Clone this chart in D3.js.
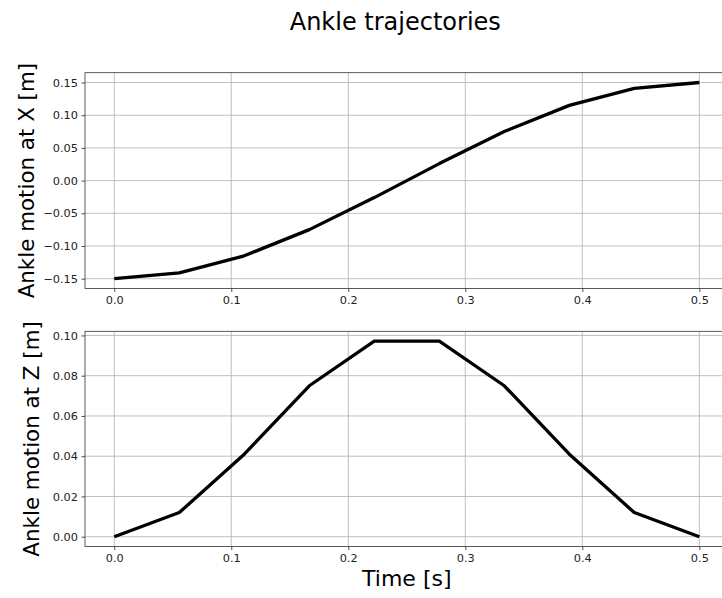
<!DOCTYPE html>
<html>
<head>
<meta charset="utf-8">
<script src="https://cdn.jsdelivr.net/npm/d3@7"></script>
<style>
  html, body { margin: 0; padding: 0; background: #fff; }
  svg { display: block; font-family: "DejaVu Sans", sans-serif; }
</style>
</head>
<body>
<svg id="chart" width="722" height="598"></svg>
<script>
// ---- data ----
const time = [0.0, 0.0556, 0.1111, 0.1667, 0.2222, 0.2778, 0.3333, 0.3889, 0.4444, 0.5];
const ankleX = [-0.150, -0.141, -0.115, -0.075, -0.026, 0.026, 0.075, 0.115, 0.141, 0.150];
const ankleZ = [0.000, 0.012, 0.041, 0.075, 0.0972, 0.0972, 0.075, 0.041, 0.012, 0.000];
const xTicks = [0.0, 0.1, 0.2, 0.3, 0.4, 0.5];
const xTicksTop = [-0.15, -0.10, -0.05, 0.00, 0.05, 0.10, 0.15];
const zTicks = [0.00, 0.02, 0.04, 0.06, 0.08, 0.10];

const title = "Ankle trajectories";
const yLabelTop = "Ankle motion at X [m]";
const yLabelBottom = "Ankle motion at Z [m]";
const xLabel = "Time [s]";

// ---- layout ----
const svg = d3.select("#chart");
const left = 85, right = 728.6;

const x = d3.scaleLinear().domain([-0.025, 0.525]).range([left, right]);

function fmt(d, n) {
  const s = Math.abs(d).toFixed(n);
  return (d < 0 ? "\u2212" : "") + s;
}

function panel(top, bottom, yDomain, yTicks, ys, yDec, ylabel, ylabelX) {
  const y = d3.scaleLinear().domain(yDomain).range([bottom, top]);
  const g = svg.append("g");

  // grid
  g.selectAll(".vg").data(xTicks).enter().append("line")
    .attr("x1", d => x(d)).attr("x2", d => x(d))
    .attr("y1", top).attr("y2", bottom)
    .attr("stroke", "#b0b0b0").attr("stroke-width", 0.8);
  g.selectAll(".hg").data(yTicks).enter().append("line")
    .attr("x1", left).attr("x2", right)
    .attr("y1", d => y(d)).attr("y2", d => y(d))
    .attr("stroke", "#b0b0b0").attr("stroke-width", 0.8);

  // line
  const line = d3.line().x((d, i) => x(time[i])).y(d => y(d));
  g.append("path").datum(ys)
    .attr("d", line)
    .attr("fill", "none").attr("stroke", "#000").attr("stroke-width", 3.3)
    .attr("stroke-linejoin", "round");

  // axes
  const xa = d3.axisBottom(x).tickValues(xTicks).tickSize(3.5).tickPadding(3.5)
    .tickFormat(d => d.toFixed(1));
  const gx = g.append("g").attr("transform", `translate(0,${bottom})`).call(xa);
  const ya = d3.axisLeft(y).tickValues(yTicks).tickSize(3.5).tickPadding(3.5)
    .tickFormat(d => fmt(d, 2));
  const gy = g.append("g").attr("transform", `translate(${left},0)`).call(ya);
  [gx, gy].forEach(a => {
    a.select(".domain").remove();
    a.selectAll("line").attr("stroke", "#222").attr("stroke-width", 0.8);
    a.selectAll("text").attr("fill", "#222").style("font-size", "11.3px")
      .style("font-family", "DejaVu Sans, sans-serif");
  });

  // spines
  g.append("rect").attr("x", left).attr("y", top)
    .attr("width", right - left).attr("height", bottom - top)
    .attr("fill", "none").attr("stroke", "#333").attr("stroke-width", 0.8);

  // y label
  g.append("text")
    .attr("transform", `translate(${ylabelX},${(top + bottom) / 2}) rotate(-90)`)
    .attr("text-anchor", "middle")
    .style("font-size", "21.4px").attr("fill", "#000")
    .text(ylabel);
  return g;
}

panel(72.7, 288.5, [-0.165, 0.165], xTicksTop, ankleX, 2, yLabelTop, 33.5);
panel(331.3, 546.5, [-0.00486, 0.10206], zTicks, ankleZ, 2, yLabelBottom, 38.5);

svg.append("text").attr("x", 395.3).attr("y", 30)
  .attr("text-anchor", "middle").style("font-size", "24px").attr("fill", "#000")
  .text(title);

svg.append("text").attr("x", (left + right) / 2).attr("y", 586)
  .attr("text-anchor", "middle").style("font-size", "22px").attr("fill", "#000")
  .text(xLabel);
</script>
</body>
</html>
